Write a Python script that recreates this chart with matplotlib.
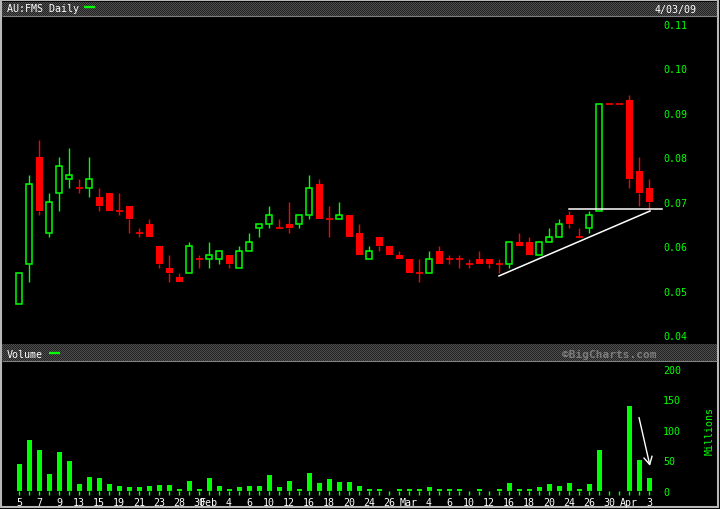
import numpy as np
import matplotlib
matplotlib.use('Agg')
import matplotlib.pyplot as plt
from matplotlib.colors import ListedColormap
from matplotlib.patches import Rectangle

plt.rcParams['font.family'] = ['DejaVu Sans Mono']

# daily OHLC for AU:FMS, 5 Jan - 3 Apr 2009 (one entry per trading day)
opens = [0.047, 0.056, 0.080, 0.063, 0.072, 0.075, 0.073, 0.073, 0.071, 0.072,
         0.068, 0.069, 0.063, 0.065, 0.060, 0.055, 0.053, 0.054, 0.057, 0.057,
         0.057, 0.058, 0.055, 0.059, 0.064, 0.065, 0.064, 0.065, 0.065, 0.067,
         0.074, 0.066, 0.066, 0.067, 0.063, 0.057, 0.062, 0.060, 0.058, 0.057,
         0.054, 0.054, 0.059, 0.057, 0.057, 0.056, 0.057, 0.057, 0.056, 0.056,
         0.061, 0.061, 0.058, 0.061, 0.062, 0.067, 0.062, 0.064, 0.068, 0.092,
         0.092, 0.093, 0.077, 0.073]
highs = [0.054, 0.076, 0.084, 0.072, 0.080, 0.082, 0.075, 0.080, 0.073, 0.072,
         0.072, 0.069, 0.064, 0.066, 0.060, 0.058, 0.054, 0.061, 0.058, 0.061,
         0.059, 0.058, 0.060, 0.063, 0.065, 0.069, 0.066, 0.070, 0.067, 0.076,
         0.075, 0.069, 0.070, 0.067, 0.065, 0.060, 0.062, 0.060, 0.059, 0.057,
         0.057, 0.059, 0.060, 0.058, 0.058, 0.057, 0.059, 0.057, 0.057, 0.061,
         0.063, 0.062, 0.061, 0.064, 0.066, 0.068, 0.064, 0.068, 0.092, 0.092,
         0.092, 0.094, 0.080, 0.075]
lows = [0.047, 0.052, 0.067, 0.062, 0.068, 0.073, 0.072, 0.071, 0.068, 0.068,
        0.067, 0.063, 0.062, 0.062, 0.055, 0.052, 0.052, 0.054, 0.055, 0.055,
        0.056, 0.055, 0.055, 0.059, 0.062, 0.064, 0.064, 0.063, 0.064, 0.066,
        0.066, 0.062, 0.066, 0.062, 0.058, 0.057, 0.059, 0.058, 0.057, 0.054,
        0.052, 0.054, 0.056, 0.056, 0.055, 0.055, 0.056, 0.055, 0.054, 0.055,
        0.060, 0.058, 0.058, 0.061, 0.062, 0.064, 0.062, 0.063, 0.068, 0.092,
        0.092, 0.073, 0.069, 0.068]
closes = [0.054, 0.074, 0.068, 0.070, 0.078, 0.076, 0.073, 0.075, 0.069, 0.068,
          0.068, 0.066, 0.063, 0.062, 0.056, 0.054, 0.052, 0.060, 0.057, 0.058,
          0.059, 0.056, 0.059, 0.061, 0.065, 0.067, 0.064, 0.064, 0.067, 0.073,
          0.066, 0.066, 0.067, 0.062, 0.058, 0.059, 0.060, 0.058, 0.057, 0.054,
          0.054, 0.057, 0.056, 0.057, 0.057, 0.056, 0.056, 0.056, 0.056, 0.061,
          0.060, 0.058, 0.061, 0.062, 0.065, 0.065, 0.062, 0.067, 0.092, 0.092,
          0.092, 0.075, 0.072, 0.070]
# volume in millions
volumes = [44, 84, 67, 27, 63, 49, 11, 23, 21, 11,
           8, 6, 6, 8, 9, 9, 4, 17, 3, 21,
           8, 4, 6, 8, 8, 26, 6, 16, 3, 29,
           13, 19, 14, 14, 8, 4, 3, 0.3, 3, 4,
           4, 6, 3, 3, 3, 0.5, 4, 0.5, 4, 13,
           4, 4, 6, 11, 8, 13, 4, 11, 67, 0,
           0, 139, 50, 22]

date_tick_pos = [0, 2, 4, 6, 8, 10, 12, 14, 16, 18, 19, 21, 23, 25, 27, 29, 31, 33,
                 35, 37, 39, 41, 43, 45, 47, 49, 51, 53, 55, 57, 59, 61, 63]
date_tick_lbl = ['5', '7', '9', '13', '15', '19', '21', '23', '28', '30', 'Feb', '4', '6',
                 '10', '12', '16', '18', '20', '24', '26', 'Mar', '4', '6', '10', '12',
                 '16', '18', '20', '24', '26', '30', 'Apr', '3']
price_ticks = [0.04, 0.05, 0.06, 0.07, 0.08, 0.09, 0.10, 0.11]
vol_ticks = [0, 50, 100, 150, 200]

# hand-drawn annotations (day index, value)
resist_x, resist_y = [55.0, 64.3], [0.0684, 0.0684]
trend_x, trend_y = [48.0, 63.1], [0.0533, 0.0679]
arrow_from, arrow_to = (62.0, 120), (63.1, 41)

GREEN = '#00ff00'
RED = '#ff0000'
W, H = 720, 510


def px_rect(x0, y0, x1, y1):
    return [x0 / W, 1 - y1 / H, (x1 - x0) / W, (y1 - y0) / H]


fig = plt.figure(figsize=(7.2, 5.1), dpi=100, facecolor='black')

# background: frame, title bands, labels (pixel coords)
bg = fig.add_axes([0, 0, 1, 1], zorder=0)
cmap = ListedColormap(['#222222', '#4e4e4e'])
for y0, y1 in [(3, 17), (345, 362)]:
    chk = np.indices((y1 - y0, 715)).sum(axis=0) % 2
    bg.imshow(chk, cmap=cmap, extent=(2, 717, y1, y0), interpolation='nearest', aspect='auto')
bg.hlines([17, 362], 2, 717, color='#808080', lw=0.8)
bg.add_patch(Rectangle((1, 1), 717, 507, fill=False, edgecolor='#b8b8b8', lw=1.5))
bg.set_xlim(0, W)
bg.set_ylim(H, 0)
bg.axis('off')

bg.text(7, 9.5, 'AU:FMS Daily', color='white', fontsize=7.2, va='center')
bg.plot([84, 95], [8, 8], color=GREEN, lw=1.7, solid_capstyle='butt')
bg.text(697, 9.5, '4/03/09', color='white', fontsize=7.2, va='center', ha='right')
bg.text(7, 355, 'Volume', color='white', fontsize=7.2, va='center')
bg.plot([49, 60], [354, 354], color=GREEN, lw=1.7, solid_capstyle='butt')
bg.text(657, 354.5, '\u00a9BigCharts.com', color='#7c7c7c', fontsize=8, fontweight='bold',
        va='center', ha='right')
bg.text(710, 431, 'Millions', color=GREEN, fontsize=7.2, rotation=90, va='center', ha='center')

o = np.array(opens)
h = np.array(highs)
l = np.array(lows)
c = np.array(closes)
x = np.arange(len(c))
up = c > o
dn = c < o
dj = c == o
body_lo = np.minimum(o, c)
body_hi = np.maximum(o, c)
cols = np.where(up, GREEN, RED)

# price panel
ax = fig.add_axes(px_rect(3, 17, 660, 345), zorder=1)
ax.set_facecolor('none')
ax.vlines(x, l, body_lo, color=cols, lw=1)
ax.vlines(x, body_hi, h, color=cols, lw=1)
ax.bar(x[dn], (o - c)[dn], bottom=c[dn], width=0.7, color=RED, lw=0)
ax.bar(x[up], (c - o)[up], bottom=o[up], width=0.6, facecolor='black', edgecolor=GREEN, lw=1.1)
ax.hlines(c[dj], x[dj] - 0.35, x[dj] + 0.35, color=RED, lw=1.2)
ax.plot(resist_x, resist_y, color='white', lw=1.1, clip_on=False)
ax.plot(trend_x, trend_y, color='white', lw=1.1, clip_on=False)
ax.set_xlim(-1.6, 64.1)
ax.set_ylim(0.04 - 9 / 4443, 0.04 + 319 / 4443)
ax.yaxis.tick_right()
ax.set_yticks(price_ticks)
ax.set_yticklabels(['%.2f' % p for p in price_ticks])
ax.set_xticks([])
ax.tick_params(axis='y', length=0, pad=2.2, labelcolor=GREEN, labelsize=7.2)
for s in ax.spines.values():
    s.set_visible(False)

# volume panel
vax = fig.add_axes(px_rect(3, 362, 660, 492), zorder=1)
vax.set_facecolor('none')
vax.bar(x, volumes, width=0.5, color=GREEN, lw=0)
vax.annotate('', xy=arrow_to, xytext=arrow_from,
             arrowprops=dict(arrowstyle='->,head_length=0.55,head_width=0.3',
                             color='white', lw=1, shrinkA=0, shrinkB=0))
vax.set_xlim(-1.6, 64.1)
vax.set_ylim(0, 130 / 0.6125)
vax.set_xticks(x, minor=True)
vax.set_xticks(date_tick_pos)
vax.set_xticklabels(date_tick_lbl)
vax.tick_params(axis='x', which='both', length=3, width=1, color=GREEN)
vax.tick_params(axis='x', labelcolor='white', labelsize=7.2, pad=1.2)
vax.yaxis.tick_right()
vax.set_yticks(vol_ticks)
vax.tick_params(axis='y', length=0, pad=2.2, labelcolor=GREEN, labelsize=7.2)
for s in vax.spines.values():
    s.set_visible(False)

fig.savefig('out.png', dpi=100, facecolor='black')
